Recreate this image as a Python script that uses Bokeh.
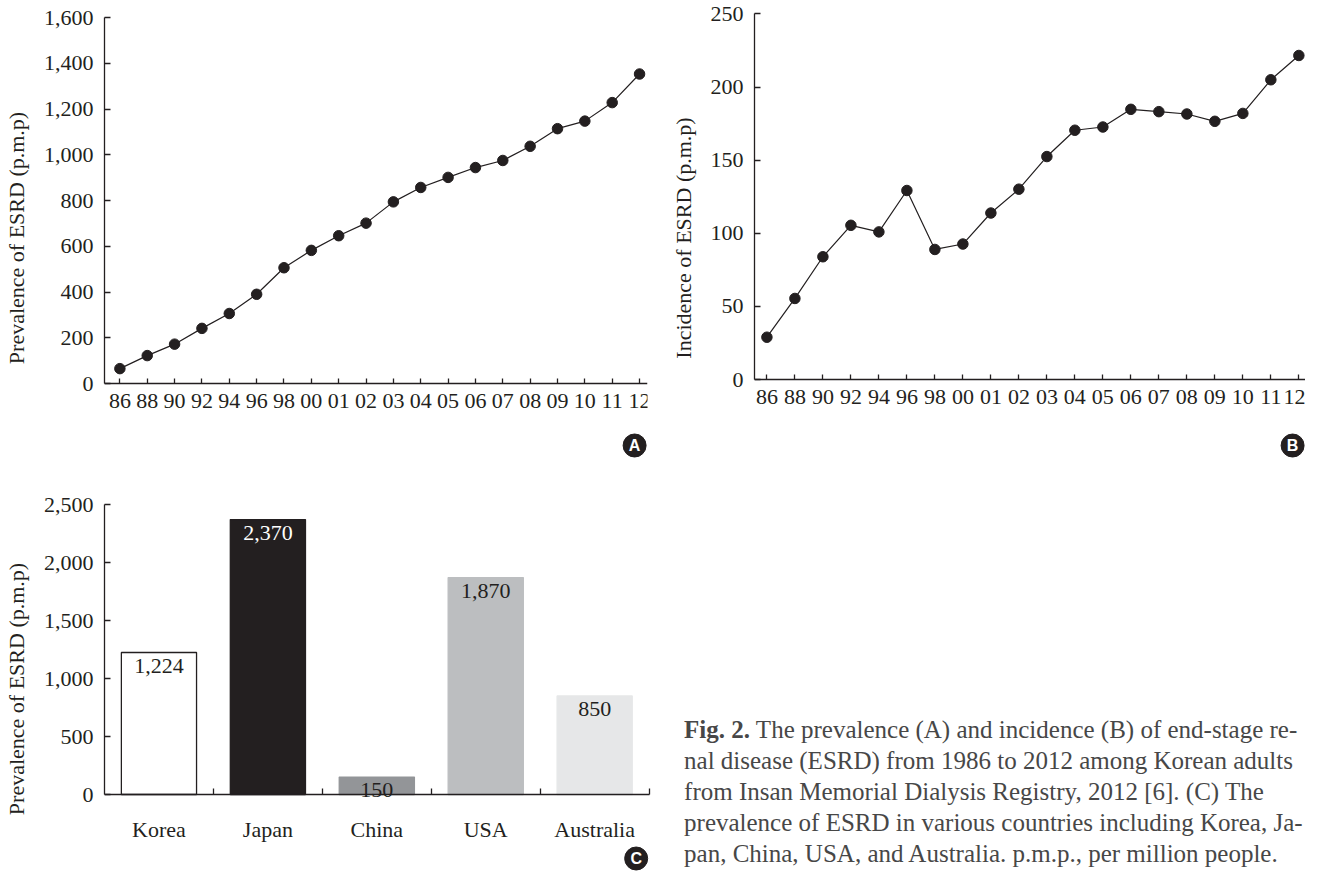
from bokeh.plotting import figure
from bokeh.layouts import row, column
from bokeh.models import Range1d, FixedTicker, NumeralTickFormatter, ColumnDataSource
from bokeh.core.properties import value
from bokeh.embed import file_html
from bokeh.resources import INLINE

# ---------------- data ----------------
years = ["86", "88", "90", "92", "94", "96", "98", "00", "01", "02",
         "03", "04", "05", "06", "07", "08", "09", "10", "11", "12"]
prevalence = [65, 122, 172, 241, 306, 390, 506, 582, 646, 701,
              794, 857, 901, 944, 975, 1037, 1114, 1147, 1228, 1353]
incidence = [29, 55.5, 84, 105.5, 101, 129.3, 89, 92.7, 113.9, 130.2,
             152.5, 170.5, 172.7, 184.8, 183.2, 181.6, 176.6, 182, 205, 221.6]
countries = ["Korea", "Japan", "China", "USA", "Australia"]
country_prevalence = [1224, 2370, 150, 1870, 850]
bar_colors = ["#ffffff", "#231f20", "#939598", "#bcbec0", "#e6e7e8"]
bar_line_colors = ["#231f20", "#231f20", "#939598", "#bcbec0", "#e6e7e8"]
bar_label_colors = ["#231f20", "#ffffff", "#231f20", "#231f20", "#231f20"]
caption_bold = "Fig. 2."
caption_lines = [
    "The prevalence (A) and incidence (B) of end-stage re-",
    "nal disease (ESRD) from 1986 to 2012 among Korean adults",
    "from Insan Memorial Dialysis Registry, 2012 [6]. (C) The",
    "prevalence of ESRD in various countries including Korea, Ja-",
    "pan, China, USA, and Australia. p.m.p., per million people.",
]

SERIF = "Liberation Serif"
INK = "#231f20"
TICK_FS = "22px"
LABEL_FS = "22px"
CAP_FS = "25px"
CAP_COLOR = "#474747"
M = 8  # page margin


def style(p):
    p.background_fill_color = "white"
    p.border_fill_color = "white"
    p.outline_line_color = None
    p.xgrid.visible = False
    p.ygrid.visible = False
    for ax in p.axis:
        ax.axis_line_color = INK
        ax.axis_line_width = 1.3
        ax.major_tick_line_color = INK
        ax.major_tick_line_width = 1.3
        ax.minor_tick_line_color = None
        ax.major_label_text_font = SERIF
        ax.major_label_text_font_size = TICK_FS
        ax.major_label_text_color = INK
        ax.axis_label_text_font = SERIF
        ax.axis_label_text_font_size = LABEL_FS
        ax.axis_label_text_font_style = "normal"
        ax.axis_label_text_color = INK


class Frame:
    """page-pixel <-> data mapping of a figure frame"""
    def __init__(self, left, right, top, bottom, x_at, x_ppu, y_at, y_ppu):
        self.left, self.right, self.top, self.bottom = left, right, top, bottom
        self.x_at, self.x_ppu, self.y_at, self.y_ppu = x_at, x_ppu, y_at, y_ppu

    def x(self, px):
        return self.x_at[1] + (px - self.x_at[0]) / self.x_ppu

    def y(self, py):
        return self.y_at[1] + (self.y_at[0] - py) / self.y_ppu

    def xr(self):
        return Range1d(self.x(self.left), self.x(self.right))

    def yr(self):
        return Range1d(self.y(self.bottom), self.y(self.top))


def badge(p, fr, letter, px, py):
    p.scatter([fr.x(px)], [fr.y(py)], size=23, color=INK)
    p.text([fr.x(px)], [fr.y(py)], text=[letter], text_align="center", text_baseline="middle",
           text_font=value("Liberation Sans"), text_font_style="bold",
           text_font_size="16px", text_color="white")


ROW1_TOP, ROW1_BOTTOM = 21, 470


def line_panel(values, ylabel, ymax, ystep, fr, width, mb_left, mb_right):
    p = figure(width=width, height=ROW1_BOTTOM - M, x_range=fr.xr(), y_range=fr.yr(),
               output_backend="svg", toolbar_location=None,
               min_border_left=mb_left, min_border_right=mb_right,
               min_border_top=ROW1_TOP - M, min_border_bottom=0)
    src = ColumnDataSource(dict(x=list(range(len(years))), y=values))
    p.line("x", "y", source=src, line_color=INK, line_width=1.2)
    p.scatter("x", "y", source=src, size=10.5, color=INK)
    style(p)
    p.xaxis.fixed_location = 0
    p.xaxis.ticker = FixedTicker(ticks=list(range(len(years))))
    p.xaxis.major_label_overrides = {i: y for i, y in enumerate(years)}
    p.xaxis.major_tick_in = 5
    p.xaxis.major_tick_out = 0
    p.xaxis.major_label_standoff = 10
    p.yaxis.bounds = (0, ymax)
    p.yaxis.ticker = FixedTicker(ticks=list(range(0, ymax + 1, ystep)))
    p.yaxis.formatter = NumeralTickFormatter(format="0,0")
    p.yaxis.major_tick_in = 6
    p.yaxis.major_tick_out = 0
    p.yaxis.major_label_standoff = 11
    p.yaxis.axis_label = ylabel
    p.yaxis.axis_label_standoff = 12
    return p


# Panel A: frame 108..655 ; 0 at y=391, 1600 at y=25 ; "86" at x=123.5, "12" at x=647
frA = Frame(108, 655, ROW1_TOP, ROW1_BOTTOM, (123.5, 0), (647 - 123.5) / 19, (391, 0), 366 / 1600)
pA = line_panel(prevalence, "Prevalence of ESRD (p.m.p)", 1600, 200, frA, 667, 100, 20)
badge(pA, frA, "A", 642, 453)

# Panel B: frame 758..1313 ; 0 at y=387, 250 at y=20.7 ; "86" at x=770.5
frB = Frame(758, 1313, ROW1_TOP, ROW1_BOTTOM, (770.5, 0), 28.2, (387, 0), 366.3 / 250)
pB = line_panel(incidence, "Incidence of ESRD (p.m.p)", 250, 50, frB, 638, 83, 0)
pB.y_range.end = 250.3
badge(pB, frB, "B", 1300, 453)

# Panel C (+ caption): frame 109..1313 ; 0 at y=802, 2500 at y=512
ROW2_TOP, ROW2_BOTTOM = 470, 881
frC = Frame(109, 1313, 512, ROW2_BOTTOM, (109, -0.5), 109.2, (802, 0), 290 / 2500)
pC = figure(width=1313 - M, height=ROW2_BOTTOM - ROW2_TOP, x_range=frC.xr(), y_range=frC.yr(),
            output_backend="svg", toolbar_location=None,
            min_border_left=109 - M, min_border_right=0,
            min_border_top=512 - ROW2_TOP, min_border_bottom=0)
xs = list(range(len(countries)))
srcC = ColumnDataSource(dict(x=xs, top=country_prevalence, fill=bar_colors,
                             line=bar_line_colors, lab=[f"{v:,}" for v in country_prevalence],
                             labc=bar_label_colors))
pC.vbar(x="x", top="top", bottom=0, width=0.69, source=srcC,
        fill_color="fill", line_color="line", line_width=1.3)
pC.text(x="x", y="top", text="lab", source=srcC, text_align="center",
        text_baseline="middle", y_offset=13, text_font=value(SERIF),
        text_font_size=TICK_FS, text_color="labc")
style(pC)
pC.xaxis.fixed_location = 0
pC.xaxis.bounds = (-0.5, 4.5)
pC.xaxis.ticker = FixedTicker(ticks=xs, minor_ticks=[i + 0.5 for i in xs])
pC.xaxis.major_label_overrides = {i: c for i, c in enumerate(countries)}
pC.xaxis.major_tick_in = 0
pC.xaxis.major_tick_out = 0
pC.xaxis.minor_tick_line_color = INK
pC.xaxis.minor_tick_line_width = 1.3
pC.xaxis.minor_tick_in = 6
pC.xaxis.minor_tick_out = 0
pC.xaxis.major_label_standoff = 22
pC.yaxis.bounds = (0, 2500)
pC.yaxis.ticker = FixedTicker(ticks=list(range(0, 2501, 500)))
pC.yaxis.formatter = NumeralTickFormatter(format="0,0")
pC.yaxis.major_tick_in = 6
pC.yaxis.major_tick_out = 0
pC.yaxis.major_label_standoff = 11
pC.yaxis.axis_label = "Prevalence of ESRD (p.m.p)"
pC.yaxis.axis_label_standoff = 12
badge(pC, frC, "C", 642, 866)

# caption (page pixels: left 690, baselines every 31px from 737)
cap_x0, cap_base0, cap_lh, bold_w = 690, 737, 31, 72
pC.text([frC.x(cap_x0)], [frC.y(cap_base0)], text=[caption_bold], text_font=value(SERIF),
        text_font_style="bold", text_font_size=CAP_FS, text_color=CAP_COLOR,
        text_baseline="alphabetic")
cx = [frC.x(cap_x0 + bold_w)] + [frC.x(cap_x0)] * (len(caption_lines) - 1)
cy = [frC.y(cap_base0 + i * cap_lh) for i in range(len(caption_lines))]
pC.text(cx, cy, text=caption_lines, text_font=value(SERIF), text_font_size=CAP_FS,
        text_color=CAP_COLOR, text_baseline="alphabetic")

layout = column(row(pA, pB), pC)
open("out.html", "w").write(file_html(layout, INLINE))
